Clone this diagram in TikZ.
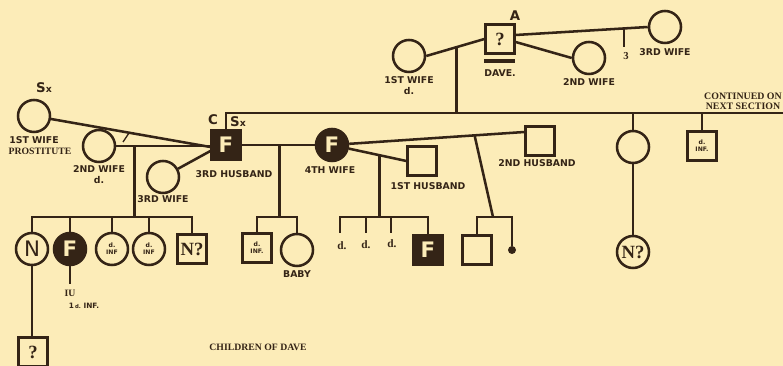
\documentclass[tikz,border=0pt]{standalone}
\usepackage{fontspec}
\setmainfont{Liberation Serif}
\newfontfamily\labf{DejaVu Sans}
\usetikzlibrary{calc}
\definecolor{bg}{RGB}{252,236,184}
\definecolor{ink}{RGB}{52,36,22}
\tikzset{
 lab/.style={font=\labf\bfseries\fontsize{7}{8}\selectfont, text=ink, inner sep=0},
 ser/.style={font=\bfseries\fontsize{7.3}{8}\selectfont, text=ink, inner sep=0, align=center},
 big/.style={font=\labf\bfseries\fontsize{10}{10}\selectfont, text=ink, inner sep=0},
 tiny/.style={font=\labf\bfseries\fontsize{4.6}{5.4}\selectfont, align=center, text=ink},
 fem/.style={circle, draw=ink, line width=1.9pt, minimum size=24pt, inner sep=0, fill=bg},
 mal/.style={rectangle, draw=ink, line width=1.9pt, minimum size=21.5pt, inner sep=0, fill=bg},
 aff/.style={fill=ink, text=bg, font=\labf\bfseries\fontsize{16}{16}\selectfont},
 qm/.style={font=\bfseries\fontsize{14}{14}\selectfont, text=ink},
 ln/.style={draw=ink, line width=1.9pt},
}
\begin{document}
\begin{tikzpicture}[x=0.75pt,y=-0.75pt]
\fill[bg] (0,0) rectangle (783,366);
\useasboundingbox (0,0) rectangle (783,366);

% ---- top generation: Dave and his wives
\node[mal, qm] (dave) at (500,39) {?};
\node[big] (A) at (515,16) {A};
\node[fem] (dw1) at (409,56) {};
\node[fem] (dw2) at (589,58) {};
\node[fem] (dw3) at (665,27) {};
\coordinate (bar1) at (484,61);
\coordinate (bar2) at (515,61);
\draw[ink, line width=2.4pt] (bar1) -- (bar2);
\node[lab] (daven) at (500,73) {DAVE.};
\node[lab] (dw1l) at (409,80) {1ST WIFE};
\node[lab] (dw1d) at (409,91) {d.};
\node[lab] (dw2l) at (589,82) {2ND WIFE};
\node[lab] (dw3l) at (665,52) {3RD WIFE};

\coordinate (mlL) at (225,113);
\coordinate (mlR) at (783,113);

\draw[ln] (dw1.east) -- (dave.west);
\coordinate (m1) at ($(dw1.east)!0.52!(dave.west)$);
\draw[ln] (m1) -- (m1 |- mlL);
\draw[ln] ($(dave.east)+(0,3)$) -- (dw2.west);
\coordinate (d3s) at ($(dave.east)+(0,-4)$);
\draw[ln] (d3s) -- (dw3.west);
\coordinate (t3) at ($(d3s)!0.822!(dw3.west)$);
\draw[ink, line width=1.4pt] (t3) -- ++(0,19) coordinate (t3e);
\node[ser, font=\bfseries\fontsize{8}{8}\selectfont] (n3) at (626,56) {3};

% ---- C (F) and wives
\node[mal, aff] (f1) at (226,145) {F};
\node[big] (C) at (213,120) {C};
\node[big] (Sx1) at (238,122) {S{\fontsize{7}{7}\selectfont x}};
\draw[ln] (f1.north) -- (f1.north |- mlL) -- (mlR);

\node[fem] (w1) at (34,116) {};
\node[fem] (w2) at (99,146) {};
\node[fem] (w3) at (163,177) {};
\node[big] (Sx2) at (44,88) {S{\fontsize{7}{7}\selectfont x}};
\draw[ln] (w1) -- ($(f1.west)+(0,2)$);
\draw[ln] (w2.east) -- (w2.east -| f1.west);
\draw[ln] (w3) -- ($(f1.west)+(0,6)$);
\coordinate (s1) at (123,142);
\coordinate (s2) at (129,133);
\draw[ink, line width=1pt] (s1) -- (s2);
\node[lab] (w1l) at (34,140) {1ST WIFE};
\node[ser] (w1p) at (40,151) {PROSTITUTE};
\node[lab] (w2l) at (99,169) {2ND WIFE};
\node[lab] (w2d) at (99,180) {d.};
\node[lab] (w3l) at (163,199) {3RD WIFE};
\node[lab] (f1l) at (234,174) {3RD HUSBAND};

% children of C with 2nd wife
\coordinate (m2) at ($(w2.east)+(18,0)$);
\draw[ln] (m2) -- ++(0,71) coordinate (b1);
\node[fem, font=\labf\fontsize{16}{16}\selectfont, text=ink] (cN) at (32,249) {N};
\node[fem, aff] (cF) at (70,249) {F};
\node[fem, tiny] (cd1) at (112,249) {d.\\INF};
\node[fem, tiny] (cd2) at (149,249) {d.\\INF};
\node[mal, qm] (cNq) at (192,249) {N?};
\draw[ln] (cN.north) -- (cN.north |- b1) -- (cNq.north |- b1) -- (cNq.north);
\draw[ln] (cF.north) -- (cF.north |- b1);
\draw[ln] (cd1.north) -- (cd1.north |- b1);
\draw[ln] (cd2.north) -- (cd2.north |- b1);
\draw[ln] (cF.south) -- ++(0,18) coordinate (cFe);
\node[ser] (iu) at (70,293) {IU};
\node[lab, font=\labf\bfseries\fontsize{5.5}{6}\selectfont] (iud) at (84,306) {1\,{\fontsize{4}{4}\selectfont d.}\ INF.};
\node[mal, qm] (gq) at (33,352) {?};
\draw[ln] (cN.south) -- (cN.south |- gq.north);

% ---- 4th wife
\node[fem, aff] (w4) at (332,145) {F};
\node[lab] (w4l) at (330,170) {4TH WIFE};
\draw[ln] (f1.east) -- (w4.west);
\coordinate (m3) at ($(f1.east)!0.52!(w4.west)$);
\draw[ln] (m3) -- ++(0,72) coordinate (b2);
\node[mal, tiny] (cd3) at (257,248) {d.\\INF.};
\node[fem] (baby) at (297,250) {};
\node[lab] (babyl) at (297,274) {BABY};
\draw[ln] (cd3.north) -- (cd3.north |- b2) -- (baby.north |- b2) -- (baby.north);

% 1st husband
\node[mal] (h1) at (422,161) {};
\node[lab] (h1l) at (428,186) {1ST HUSBAND};
\draw[ln] (w4) -- (h1.west);
\coordinate (m4) at ($(w4.center)!0.64!(h1.west)$);
\node[mal, aff] (cF2) at (428,250) {F};
\coordinate (k1) at (340,233);
\coordinate (k2) at (366,233);
\coordinate (k3) at (391,233);
\draw[ln] (m4) -- (m4 |- b2);
\draw[ln] (k1) -- (k1 |- b2) -- (cF2.north |- b2) -- (cF2.north);
\draw[ln] (k2) -- (k2 |- b2);
\draw[ln] (k3) -- (k3 |- b2);
\node[ser, font=\bfseries\fontsize{8.5}{9}\selectfont] (dk1) at (342,246) {d.};
\node[ser, font=\bfseries\fontsize{8.5}{9}\selectfont] (dk2) at (366,245) {d.};
\node[ser, font=\bfseries\fontsize{8.5}{9}\selectfont] (dk3) at (392,244) {d.};

% 2nd husband
\node[mal] (h2) at (540,141) {};
\node[lab] (h2l) at (537,163) {2ND HUSBAND};
\coordinate (h2a) at ($(h2.west)+(0,-9)$);
\draw[ln] (w4) -- (h2a);
\coordinate (m5) at ($(w4)!0.741!(h2a)$);
\coordinate (b3) at (493,217);
\draw[ln] (m5) -- (b3);
\node[mal] (c5) at (477,250) {};
\node[circle, fill=ink, minimum size=6pt, inner sep=0] (dot) at (512,250) {};
\draw[ln] (c5.north) -- (c5.north |- b3) -- (dot |- b3) -- (dot);

% ---- right side
\node[fem] (rf) at (633,147) {};
\node[fem, qm] (rNq) at (633,252) {N?};
\draw[ln] (rf.north) -- (rf.north |- mlL);
\draw[ln] (rf.south) -- (rNq.north);
\node[mal, tiny] (rd) at (702,146) {d.\\INF.};
\draw[ln] (rd.north) -- (rd.north |- mlL);
\node[ser, font=\bfseries\fontsize{7.4}{7.8}\selectfont] (cont) at (743,101) {CONTINUED ON\\NEXT SECTION};

\node[ser] (title) at (258,347) {CHILDREN OF DAVE};
\end{tikzpicture}
\end{document}
